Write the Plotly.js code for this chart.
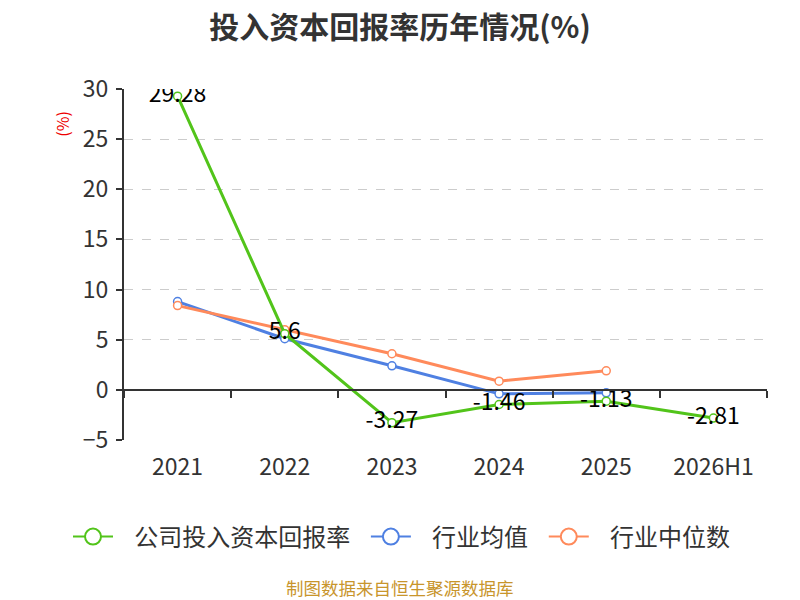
<!DOCTYPE html>
<html>
<head>
<meta charset="utf-8">
<script src="https://cdn.plot.ly/plotly-3.0.1.min.js"></script>
<style>
  body { margin: 0; }
  #chart { width: 800px; height: 600px; }
</style>
</head>
<body>
<div id="chart"></div>
<script>
// values
var years = ['2021', '2022', '2023', '2024', '2025', '2026H1'];
var company = [29.28, 5.6, -3.27, -1.46, -1.13, -2.81];
var industryAvg = [8.8, 5.1, 2.4, -0.4, -0.3, null];
var industryMedian = [8.4, 6.0, 3.6, 0.87, 1.9, null];

var font = '"Noto Sans CJK SC", "Noto Sans", sans-serif';
var names = ['公司投入资本回报率', '行业均值', '行业中位数'];
var colors = ['#52c41a', '#4f80e2', '#ff8a5b'];
var pad = '\u00a0\u00a0\u00a0';

function series(name, y, color) {
  return {
    x: years,
    y: y,
    name: name,
    type: 'scatter',
    mode: 'lines+markers',
    line: { color: color, width: 3 },
    marker: { symbol: 'circle', size: 8, color: '#fff', line: { color: color, width: 1.5 } },
    showlegend: false,
    hoverinfo: 'x+y'
  };
}

var avg = series(names[1], industryAvg, colors[1]);
var med = series(names[2], industryMedian, colors[2]);
var comp = series(names[0], company, colors[0]);
comp.mode = 'lines+markers+text';
comp.text = company.map(function (v) { return String(v); });
comp.textposition = 'middle center';
comp.textfont = { size: 23, color: '#000', family: font };

// legend entries (bigger symbols than the plotted markers)
var legendItems = names.map(function (n, i) {
  return {
    x: years,
    y: years.map(function () { return null; }),
    name: pad + n + (i < names.length - 1 ? '\u00a0\u00a0' : ''),
    type: 'scatter',
    mode: 'lines+markers',
    line: { color: colors[i], width: 2 },
    marker: { symbol: 'circle', size: 16, color: '#fff', line: { color: colors[i], width: 2 } },
    hoverinfo: 'skip'
  };
});

// empty trace so the zero axis line gets its categories
var zeroAxis = {
  x: years,
  y: years.map(function () { return null; }),
  xaxis: 'x2',
  type: 'scatter',
  mode: 'lines',
  showlegend: false,
  hoverinfo: 'skip'
};

var layout = {
  width: 800,
  height: 600,
  paper_bgcolor: '#fff',
  plot_bgcolor: '#fff',
  font: { family: font, color: '#333' },
  margin: { l: 124, r: 33, t: 89, b: 160 },
  title: {
    text: '<b>投入资本回报率历年情况(%)</b>',
    font: { size: 30, color: '#333', family: font },
    x: 0.5, xanchor: 'center',
    y: 0.955, yanchor: 'middle'
  },
  xaxis: {
    type: 'category',
    range: [-0.5, 5.5],
    showline: false,
    showgrid: false,
    zeroline: false,
    ticks: 'outside',
    ticklen: 6,
    tickcolor: 'rgba(0,0,0,0)',
    tickfont: { size: 23, color: '#333' }
  },
  xaxis2: {
    type: 'category',
    overlaying: 'x',
    anchor: 'free',
    position: 5 / 35,
    range: [-0.5, 5.5],
    showline: true,
    linecolor: '#333',
    linewidth: 2,
    ticks: 'outside',
    tickson: 'boundaries',
    ticklen: 7,
    tickwidth: 2,
    tickcolor: '#333',
    showticklabels: false,
    showgrid: false,
    zeroline: false
  },
  yaxis: {
    range: [-5, 30],
    dtick: 5,
    showline: true,
    linecolor: '#333',
    linewidth: 2,
    ticks: 'outside',
    ticklen: 6,
    tickwidth: 2,
    tickcolor: '#333',
    ticklabelstandoff: 3,
    tickfont: { size: 23, color: '#333' },
    showgrid: true,
    gridcolor: '#ccc',
    griddash: 'dash',
    gridwidth: 1,
    zeroline: false
  },
  legend: {
    orientation: 'h',
    x: (68 - 124) / 643, xanchor: 'left',
    y: (440 - 537) / 351, yanchor: 'middle',
    itemwidth: 40,
    font: { size: 24, color: '#333' },
    itemclick: false
  },
  annotations: [
    {
      text: '(%)',
      textangle: -90,
      xref: 'paper', yref: 'paper',
      x: -0.097, y: 0.9,
      xanchor: 'center', yanchor: 'middle',
      showarrow: false,
      font: { size: 16, color: '#e00' }
    },
    {
      text: '制图数据来自恒生聚源数据库',
      xref: 'paper', yref: 'paper',
      x: (400 - 124) / 643, y: -0.42,
      xanchor: 'center', yanchor: 'middle',
      showarrow: false,
      font: { size: 17.5, color: '#c8952c' }
    }
  ],
  showlegend: true
};

Plotly.newPlot('chart', [avg, med, comp].concat(legendItems, [zeroAxis]), layout, { displayModeBar: false, staticPlot: true });
</script>
</body>
</html>
